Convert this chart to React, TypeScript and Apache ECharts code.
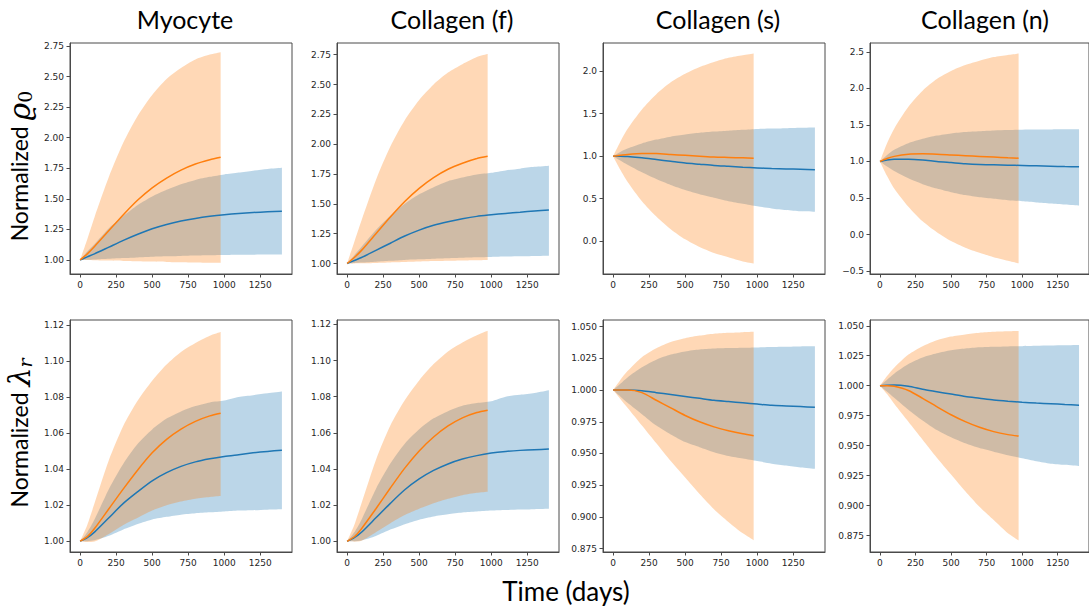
import React, { useEffect, useRef } from 'react';
import * as echarts from 'echarts';

// ---- shared x samples (days) ----
const ORANGE_DAYS = [0, 50, 100, 200, 300, 400, 500, 600, 700, 800, 900, 975];
const BLUE_DAYS = [0, 50, 100, 200, 300, 400, 500, 600, 700, 800, 900, 1000, 1100, 1200, 1300, 1400];

const TITLES = ['Myocyte', 'Collagen (f)', 'Collagen (s)', 'Collagen (n)'];
const X_TICKS = [0, 250, 500, 750, 1000, 1250];

// ---- Panel 1: Myocyte, normalized rho0 ----
const p1OrangeMean = [1.0, 1.05, 1.11, 1.24, 1.37, 1.49, 1.59, 1.67, 1.735, 1.785, 1.82, 1.84];
const p1OrangeUpper = [1.0, 1.17, 1.35, 1.68, 1.96, 2.18, 2.35, 2.48, 2.57, 2.64, 2.68, 2.7];
const p1OrangeLower = [1.0, 1.0, 0.998, 0.995, 0.992, 0.99, 0.987, 0.984, 0.981, 0.979, 0.977, 0.976];
const p1BlueMean = [1.0, 1.025, 1.05, 1.105, 1.16, 1.21, 1.255, 1.29, 1.318, 1.34, 1.357, 1.37, 1.38, 1.388, 1.394, 1.398];
const p1BlueUpper = [1.0, 1.07, 1.13, 1.26, 1.36, 1.45, 1.52, 1.575, 1.62, 1.655, 1.68, 1.7, 1.715, 1.73, 1.745, 1.755];
const p1BlueLower = [1.0, 1.002, 1.004, 1.01, 1.016, 1.021, 1.026, 1.03, 1.033, 1.036, 1.038, 1.04, 1.042, 1.043, 1.044, 1.045];

// ---- Panel 2: Collagen (f), normalized rho0 ----
const p2OrangeMean = [1.0, 1.05, 1.11, 1.25, 1.39, 1.52, 1.63, 1.72, 1.79, 1.84, 1.88, 1.898];
const p2OrangeUpper = [1.0, 1.18, 1.36, 1.7, 1.98, 2.2, 2.37, 2.5, 2.6, 2.67, 2.73, 2.755];
const p2OrangeLower = [1.0, 1.001, 1.002, 1.005, 1.009, 1.012, 1.016, 1.02, 1.023, 1.026, 1.028, 1.03];
const p2BlueMean = [1.0, 1.025, 1.05, 1.11, 1.17, 1.23, 1.28, 1.32, 1.35, 1.375, 1.395, 1.408, 1.42, 1.43, 1.44, 1.448];
const p2BlueUpper = [1.0, 1.07, 1.14, 1.28, 1.4, 1.5, 1.58, 1.64, 1.69, 1.72, 1.745, 1.76, 1.78, 1.795, 1.81, 1.82];
const p2BlueLower = [1.0, 1.004, 1.008, 1.015, 1.023, 1.03, 1.035, 1.04, 1.044, 1.048, 1.052, 1.055, 1.058, 1.06, 1.063, 1.065];

// ---- Panel 3: Collagen (s), normalized rho0 ----
const p3OrangeMean = [1.0, 1.01, 1.02, 1.03, 1.03, 1.02, 1.01, 1.0, 0.99, 0.985, 0.98, 0.976];
const p3OrangeUpper = [1.0, 1.17, 1.32, 1.55, 1.73, 1.87, 1.97, 2.05, 2.11, 2.16, 2.19, 2.21];
const p3OrangeLower = [1.0, 0.84, 0.7, 0.47, 0.29, 0.14, 0.02, -0.07, -0.14, -0.19, -0.24, -0.263];
const p3BlueMean = [1.0, 1.0, 0.995, 0.98, 0.96, 0.94, 0.92, 0.905, 0.89, 0.88, 0.87, 0.862, 0.855, 0.85, 0.845, 0.84];
const p3BlueUpper = [1.0, 1.05, 1.09, 1.15, 1.195, 1.23, 1.255, 1.275, 1.29, 1.3, 1.31, 1.32, 1.325, 1.33, 1.335, 1.338];
const p3BlueLower = [1.0, 0.95, 0.9, 0.81, 0.73, 0.66, 0.6, 0.55, 0.51, 0.47, 0.44, 0.41, 0.385, 0.365, 0.35, 0.345];

// ---- Panel 4: Collagen (n), normalized rho0 ----
const p4OrangeMean = [1.0, 1.04, 1.07, 1.1, 1.105, 1.1, 1.09, 1.08, 1.07, 1.06, 1.05, 1.045];
const p4OrangeUpper = [1.0, 1.25, 1.45, 1.75, 1.97, 2.13, 2.24, 2.32, 2.38, 2.43, 2.46, 2.478];
const p4OrangeLower = [1.0, 0.8, 0.63, 0.38, 0.18, 0.03, -0.09, -0.18, -0.25, -0.31, -0.36, -0.395];
const p4BlueMean = [1.0, 1.02, 1.03, 1.03, 1.02, 1.0, 0.985, 0.97, 0.96, 0.955, 0.95, 0.945, 0.94, 0.935, 0.93, 0.927];
const p4BlueUpper = [1.0, 1.09, 1.16, 1.25, 1.31, 1.355, 1.385, 1.405, 1.415, 1.425, 1.43, 1.435, 1.437, 1.438, 1.44, 1.44];
const p4BlueLower = [1.0, 0.93, 0.87, 0.77, 0.69, 0.63, 0.58, 0.54, 0.51, 0.49, 0.47, 0.455, 0.44, 0.425, 0.41, 0.395];

// ---- Panel 5: Myocyte, normalized lambda_r ----
const p5OrangeMean = [1.0, 1.0025, 1.007, 1.018, 1.029, 1.0395, 1.049, 1.0565, 1.0622, 1.0665, 1.0695, 1.071];
const p5OrangeUpper = [1.0, 1.009, 1.021, 1.045, 1.064, 1.078, 1.089, 1.098, 1.105, 1.11, 1.114, 1.116];
const p5OrangeLower = [1.0, 0.9995, 0.9998, 1.004, 1.009, 1.013, 1.017, 1.02, 1.022, 1.0235, 1.0245, 1.025];
const p5BlueMean = [1.0, 1.002, 1.005, 1.013, 1.021, 1.0275, 1.0335, 1.038, 1.0415, 1.044, 1.0457, 1.047, 1.048, 1.049, 1.0498, 1.0505];
const p5BlueUpper = [1.0, 1.005, 1.012, 1.029, 1.043, 1.054, 1.062, 1.068, 1.072, 1.075, 1.077, 1.078, 1.08, 1.081, 1.082, 1.083];
const p5BlueLower = [1.0, 1.0, 1.0005, 1.003, 1.0065, 1.0095, 1.012, 1.0135, 1.0147, 1.0155, 1.016, 1.0165, 1.017, 1.0172, 1.0175, 1.0177];

// ---- Panel 6: Collagen (f), normalized lambda_r ----
const p6OrangeMean = [1.0, 1.0025, 1.007, 1.018, 1.0295, 1.0405, 1.05, 1.0577, 1.0638, 1.0683, 1.0712, 1.0725];
const p6OrangeUpper = [1.0, 1.009, 1.021, 1.045, 1.064, 1.078, 1.089, 1.098, 1.105, 1.11, 1.114, 1.1165];
const p6OrangeLower = [1.0, 0.9998, 1.0003, 1.005, 1.01, 1.0145, 1.018, 1.021, 1.0235, 1.0255, 1.0268, 1.0274];
const p6BlueMean = [1.0, 1.002, 1.005, 1.013, 1.021, 1.0285, 1.0345, 1.0392, 1.0428, 1.0455, 1.0474, 1.0488, 1.0497, 1.0503, 1.0507, 1.051];
const p6BlueUpper = [1.0, 1.005, 1.012, 1.029, 1.043, 1.054, 1.062, 1.068, 1.072, 1.075, 1.0765, 1.0775, 1.08, 1.081, 1.082, 1.0835];
const p6BlueLower = [1.0, 1.0, 1.0005, 1.003, 1.0065, 1.0095, 1.012, 1.0138, 1.015, 1.016, 1.0165, 1.017, 1.0173, 1.0176, 1.0178, 1.018];

// ---- Panel 7: Collagen (s), normalized lambda_r ----
const p7OrangeMean = [1.0, 1.0, 1.0, 0.998, 0.992, 0.986, 0.98, 0.975, 0.971, 0.968, 0.9655, 0.964];
const p7OrangeUpper = [1.0, 1.008, 1.015, 1.026, 1.033, 1.038, 1.041, 1.043, 1.0445, 1.0452, 1.0457, 1.046];
const p7OrangeLower = [1.0, 0.993, 0.986, 0.972, 0.958, 0.944, 0.931, 0.918, 0.906, 0.896, 0.887, 0.8816];
const p7BlueMean = [1.0, 1.0, 1.0, 0.9995, 0.998, 0.9965, 0.995, 0.9935, 0.992, 0.991, 0.99, 0.989, 0.988, 0.9875, 0.987, 0.9865];
const p7BlueUpper = [1.0, 1.005, 1.01, 1.018, 1.024, 1.028, 1.0305, 1.032, 1.0328, 1.0332, 1.0335, 1.0337, 1.034, 1.0342, 1.0344, 1.0345];
const p7BlueLower = [1.0, 0.995, 0.99, 0.981, 0.972, 0.965, 0.959, 0.955, 0.951, 0.948, 0.946, 0.944, 0.942, 0.9405, 0.939, 0.938];

// ---- Panel 8: Collagen (n), normalized lambda_r ----
const p8OrangeMean = [1.0, 1.0, 0.9995, 0.996, 0.9895, 0.9825, 0.9758, 0.97, 0.9653, 0.9617, 0.9592, 0.958];
const p8OrangeUpper = [1.0, 1.008, 1.015, 1.026, 1.033, 1.038, 1.041, 1.0428, 1.0442, 1.045, 1.0454, 1.0456];
const p8OrangeLower = [1.0, 0.993, 0.985, 0.97, 0.955, 0.94, 0.926, 0.912, 0.899, 0.888, 0.877, 0.871];
const p8BlueMean = [1.0, 1.0003, 1.0005, 0.9995, 0.997, 0.995, 0.993, 0.991, 0.9895, 0.988, 0.987, 0.9862, 0.9855, 0.985, 0.9843, 0.9838];
const p8BlueUpper = [1.0, 1.005, 1.01, 1.018, 1.0235, 1.027, 1.0295, 1.031, 1.032, 1.0325, 1.0328, 1.033, 1.0333, 1.0335, 1.0337, 1.0339];
const p8BlueLower = [1.0, 0.995, 0.99, 0.98, 0.971, 0.963, 0.957, 0.952, 0.948, 0.945, 0.942, 0.9395, 0.937, 0.935, 0.934, 0.933];

// ---- y tick labels ----
const RHO_TICKS_A = [1.0, 1.25, 1.5, 1.75, 2.0, 2.25, 2.5, 2.75];
const RHO_TICKS_S = [0.0, 0.5, 1.0, 1.5, 2.0];
const RHO_TICKS_N = [-0.5, 0.0, 0.5, 1.0, 1.5, 2.0, 2.5];
const LAM_TICKS_A = [1.0, 1.02, 1.04, 1.06, 1.08, 1.1, 1.12];
const LAM_TICKS_B = [0.875, 0.9, 0.925, 0.95, 0.975, 1.0, 1.025, 1.05];

const BLUE = '#1f77b4';
const ORANGE = '#ff7f0e';

export default function App() {
  const ref = useRef<HTMLDivElement>(null);

  useEffect(() => {
    if (!ref.current) return;
    const chart = echarts.init(ref.current, null, { renderer: 'svg' });

    const panels = [
      { om: p1OrangeMean, ou: p1OrangeUpper, ol: p1OrangeLower, bm: p1BlueMean, bu: p1BlueUpper, bl: p1BlueLower, ymin: 0.885, ymax: 2.775, ticks: RHO_TICKS_A, dec: 2 },
      { om: p2OrangeMean, ou: p2OrangeUpper, ol: p2OrangeLower, bm: p2BlueMean, bu: p2BlueUpper, bl: p2BlueLower, ymin: 0.912, ymax: 2.848, ticks: RHO_TICKS_A, dec: 2 },
      { om: p3OrangeMean, ou: p3OrangeUpper, ol: p3OrangeLower, bm: p3BlueMean, bu: p3BlueUpper, bl: p3BlueLower, ymin: -0.388, ymax: 2.333, ticks: RHO_TICKS_S, dec: 1 },
      { om: p4OrangeMean, ou: p4OrangeUpper, ol: p4OrangeLower, bm: p4BlueMean, bu: p4BlueUpper, bl: p4BlueLower, ymin: -0.541, ymax: 2.623, ticks: RHO_TICKS_N, dec: 1 },
      { om: p5OrangeMean, ou: p5OrangeUpper, ol: p5OrangeLower, bm: p5BlueMean, bu: p5BlueUpper, bl: p5BlueLower, ymin: 0.994, ymax: 1.1227, ticks: LAM_TICKS_A, dec: 2 },
      { om: p6OrangeMean, ou: p6OrangeUpper, ol: p6OrangeLower, bm: p6BlueMean, bu: p6BlueUpper, bl: p6BlueLower, ymin: 0.9941, ymax: 1.1224, ticks: LAM_TICKS_A, dec: 2 },
      { om: p7OrangeMean, ou: p7OrangeUpper, ol: p7OrangeLower, bm: p7BlueMean, bu: p7BlueUpper, bl: p7BlueLower, ymin: 0.8723, ymax: 1.0553, ticks: LAM_TICKS_B, dec: 3 },
      { om: p8OrangeMean, ou: p8OrangeUpper, ol: p8OrangeLower, bm: p8BlueMean, bu: p8BlueUpper, bl: p8BlueLower, ymin: 0.8613, ymax: 1.0548, ticks: LAM_TICKS_B, dec: 3 },
    ];

    const colLeft = [70, 337, 603, 870];
    const rowTop = [43, 320];
    const rowH = [231, 232];
    const W = 222;

    const grids: any[] = [];
    const xAxes: any[] = [];
    const yAxes: any[] = [];
    const series: any[] = [];
    const tickFont = { fontFamily: 'DejaVu Sans', fontSize: 9, color: '#262626' };
    const frame = '#4a4a4a';

    panels.forEach((p, i) => {
      const r = Math.floor(i / 4);
      const c = i % 4;
      grids.push({
        left: colLeft[c], top: rowTop[r], width: W, height: rowH[r],
        show: true, borderColor: frame, borderWidth: 1, backgroundColor: '#fff',
        containLabel: false,
      });
      xAxes.push({
        type: 'value', gridIndex: i, min: -70, max: 1470,
        axisLine: { show: true, onZero: false, lineStyle: { color: frame, width: 1 } },
        axisTick: { show: true, length: 3.5, customValues: X_TICKS, lineStyle: { color: frame } },
        axisLabel: { ...tickFont, margin: 6, customValues: X_TICKS, formatter: (v: number) => String(v) },
        splitLine: { show: false },
      });
      yAxes.push({
        type: 'value', gridIndex: i, min: p.ymin, max: p.ymax,
        axisLine: { show: true, onZero: false, lineStyle: { color: frame, width: 1 } },
        axisTick: { show: true, length: 3.5, customValues: p.ticks, lineStyle: { color: frame } },
        axisLabel: {
          ...tickFont, margin: 6, customValues: p.ticks,
          formatter: (v: number) => v.toFixed(p.dec).replace('-', '\u2212'),
        },
        splitLine: { show: false },
      });
      const common = { type: 'line', xAxisIndex: i, yAxisIndex: i, symbol: 'none', smooth: 0.25, silent: true };
      // band series: value in column 0 (so it is the stacked dimension), day in column 1
      const band = { ...common, stackStrategy: 'all', lineStyle: { opacity: 0, width: 0 }, encode: { x: 1, y: 0 } };
      series.push({ ...band, stack: 'b' + i, data: BLUE_DAYS.map((d, k) => [p.bl[k], d]) });
      series.push({ ...band, stack: 'b' + i, areaStyle: { color: BLUE, opacity: 0.3 },
        data: BLUE_DAYS.map((d, k) => [p.bu[k] - p.bl[k], d]) });
      series.push({ ...band, stack: 'o' + i, data: ORANGE_DAYS.map((d, k) => [p.ol[k], d]) });
      series.push({ ...band, stack: 'o' + i, areaStyle: { color: ORANGE, opacity: 0.3 },
        data: ORANGE_DAYS.map((d, k) => [p.ou[k] - p.ol[k], d]) });
      // mean lines
      series.push({ ...common, lineStyle: { color: BLUE, width: 1.5 },
        data: BLUE_DAYS.map((d, k) => [d, p.bm[k]]) });
      series.push({ ...common, lineStyle: { color: ORANGE, width: 1.5 },
        data: ORANGE_DAYS.map((d, k) => [d, p.om[k]]) });
    });

    const bigFont = 'Lato';
    const graphic: any[] = TITLES.map((t, c) => ({
      type: 'text', x: colLeft[c] + W / 2 + 4, y: 19,
      style: { text: t, fontFamily: bigFont, fontSize: 25, fill: '#000', align: 'center', verticalAlign: 'middle' },
    }));
    graphic.push({
      type: 'text', x: 19, y: 166, rotation: Math.PI / 2,
      style: {
        text: 'Normalized {m|\u03F1}{s|0}', fontFamily: bigFont, fontSize: 23, fill: '#000',
        align: 'center', verticalAlign: 'middle',
        rich: {
          m: { fontFamily: 'DejaVu Serif', fontStyle: 'italic', fontSize: 30, fill: '#000' },
          s: { fontFamily: 'DejaVu Serif', fontSize: 19, fill: '#000', verticalAlign: 'bottom' },
        },
      },
    });
    graphic.push({
      type: 'text', x: 19, y: 433, rotation: Math.PI / 2,
      style: {
        text: 'Normalized {m|\u03BB}{s|r}', fontFamily: bigFont, fontSize: 23, fill: '#000',
        align: 'center', verticalAlign: 'middle',
        rich: {
          m: { fontFamily: 'DejaVu Serif', fontStyle: 'italic', fontSize: 30, fill: '#000' },
          s: { fontFamily: 'DejaVu Serif', fontStyle: 'italic', fontSize: 19, fill: '#000', verticalAlign: 'bottom' },
        },
      },
    });
    graphic.push({
      type: 'text', x: 566, y: 591,
      style: { text: 'Time (days)', fontFamily: bigFont, fontSize: 26, fill: '#000', align: 'center', verticalAlign: 'middle' },
    });

    chart.setOption({
      animation: false,
      backgroundColor: '#fff',
      grid: grids,
      xAxis: xAxes,
      yAxis: yAxes,
      series,
      graphic,
    });

    return () => chart.dispose();
  }, []);

  return (
    <div
      ref={ref}
      style={{ position: 'absolute', left: 0, top: 0, width: 1089, height: 609, background: '#fff' }}
    />
  );
}
